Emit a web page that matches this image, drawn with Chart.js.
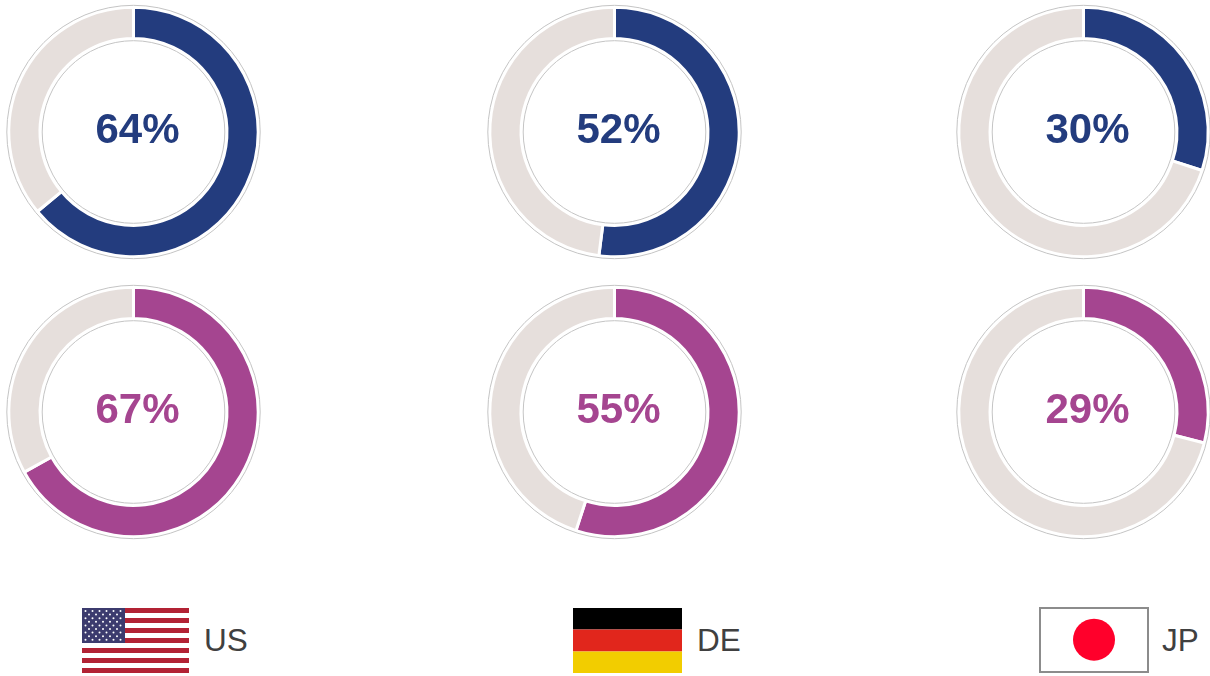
<!DOCTYPE html>
<html><head><meta charset="utf-8">
<script src="https://cdn.jsdelivr.net/npm/chart.js@4"></script>
<style>
html,body{margin:0;padding:0;background:#fff;width:1210px;height:676px;overflow:hidden;font-family:"Liberation Sans",Arial,sans-serif}
canvas{position:absolute}
.pct{position:absolute;width:200px;text-align:center;font-weight:bold;font-size:42px;line-height:48px}
.lab{position:absolute;font-size:31.5px;line-height:36px;color:#404040}
svg{position:absolute;display:block}
</style></head><body>
<script>
const categories = ["US", "DE", "JP"];
const navyValues = [64, 52, 30];
const purpleValues = [67, 55, 29];
const navy = "#233C7E", purple = "#A54590", rest = "#E6DFDC";
const colCenters = [133, 614, 1083];
const rowCenters = [132, 412];
const textCenters = [137.5, 618.5, 1087.5];

const rings = {
  id: "rings",
  afterDatasetsDraw(c) {
    const a = c.getDatasetMeta(0).data[0];
    const ctx = c.ctx;
    ctx.save();
    ctx.strokeStyle = "#C4C4C4";
    ctx.lineWidth = 1;
    [a.outerRadius + 2, a.innerRadius - 2.2].forEach(r => {
      ctx.beginPath();
      ctx.arc(a.x, a.y, r, 0, Math.PI * 2);
      ctx.stroke();
    });
    ctx.restore();
  }
};

function addRing(value, cx, cy, tx, color) {
  const cv = document.createElement("canvas");
  cv.width = 265; cv.height = 264;
  cv.style.left = (cx - 132) + "px";
  cv.style.top = (cy - 132) + "px";
  cv.style.width = "265px"; cv.style.height = "264px";
  document.body.appendChild(cv);
  new Chart(cv, {
    type: "doughnut",
    data: { datasets: [{ data: [value, 100 - value], backgroundColor: [color, rest],
      borderColor: "#fff", borderWidth: 3 }] },
    plugins: [rings],
    options: { responsive: false, animation: false, cutout: 93.5,
      layout: { padding: 5.8 },
      plugins: { legend: { display: false }, tooltip: { enabled: false } } }
  });
  const t = document.createElement("div");
  t.className = "pct";
  t.textContent = value + "%";
  t.style.left = (tx - 100) + "px";
  t.style.top = (cy - 27) + "px";
  t.style.color = color;
  document.body.appendChild(t);
}
navyValues.forEach((v, i) => addRing(v, colCenters[i], rowCenters[0], textCenters[i], navy));
purpleValues.forEach((v, i) => addRing(v, colCenters[i], rowCenters[1], textCenters[i], purple));

function addLabel(txt, x) {
  const d = document.createElement("div");
  d.className = "lab"; d.textContent = txt;
  d.style.left = x + "px"; d.style.top = "622px";
  document.body.appendChild(d);
}
addLabel(categories[0], 204);
addLabel(categories[1], 697);
addLabel(categories[2], 1162);

function addSvg(x, y, w, h, inner) {
  const holder = document.createElement("div");
  holder.innerHTML = `<svg xmlns="http://www.w3.org/2000/svg" style="left:${x}px;top:${y}px" width="${w}" height="${h}" viewBox="0 0 ${w} ${h}">${inner}</svg>`;
  document.body.appendChild(holder);
}
let us = `<rect width="107" height="65" fill="#fff"/>`;
for (let i = 0; i < 7; i++) us += `<rect y="${i * 10}" width="107" height="5" fill="#B22234"/>`;
us += `<rect width="43" height="35" fill="#3C3B6E"/>`;
for (let r = 0; r < 9; r++) {
  const n = r % 2 ? 5 : 6;
  for (let k = 0; k < n; k++)
    us += `<circle cx="${(r % 2 ? 7 : 3.5) + k * 7}" cy="${3 + r * 3.6}" r="1" fill="#fff"/>`;
}
addSvg(82, 608, 107, 65, us);
addSvg(573, 608, 109, 65,
  `<rect width="109" height="21.5" fill="#000"/><rect y="21.5" width="109" height="22" fill="#E1261C"/><rect y="43.5" width="109" height="21.5" fill="#F2CD00"/>`);
addSvg(1039, 607, 110, 66,
  `<rect x="1" y="1" width="108" height="64" fill="#fff" stroke="#8C8C8C" stroke-width="2"/><circle cx="55" cy="32.7" r="21" fill="#FF002B"/>`);
</script>
</body></html>
